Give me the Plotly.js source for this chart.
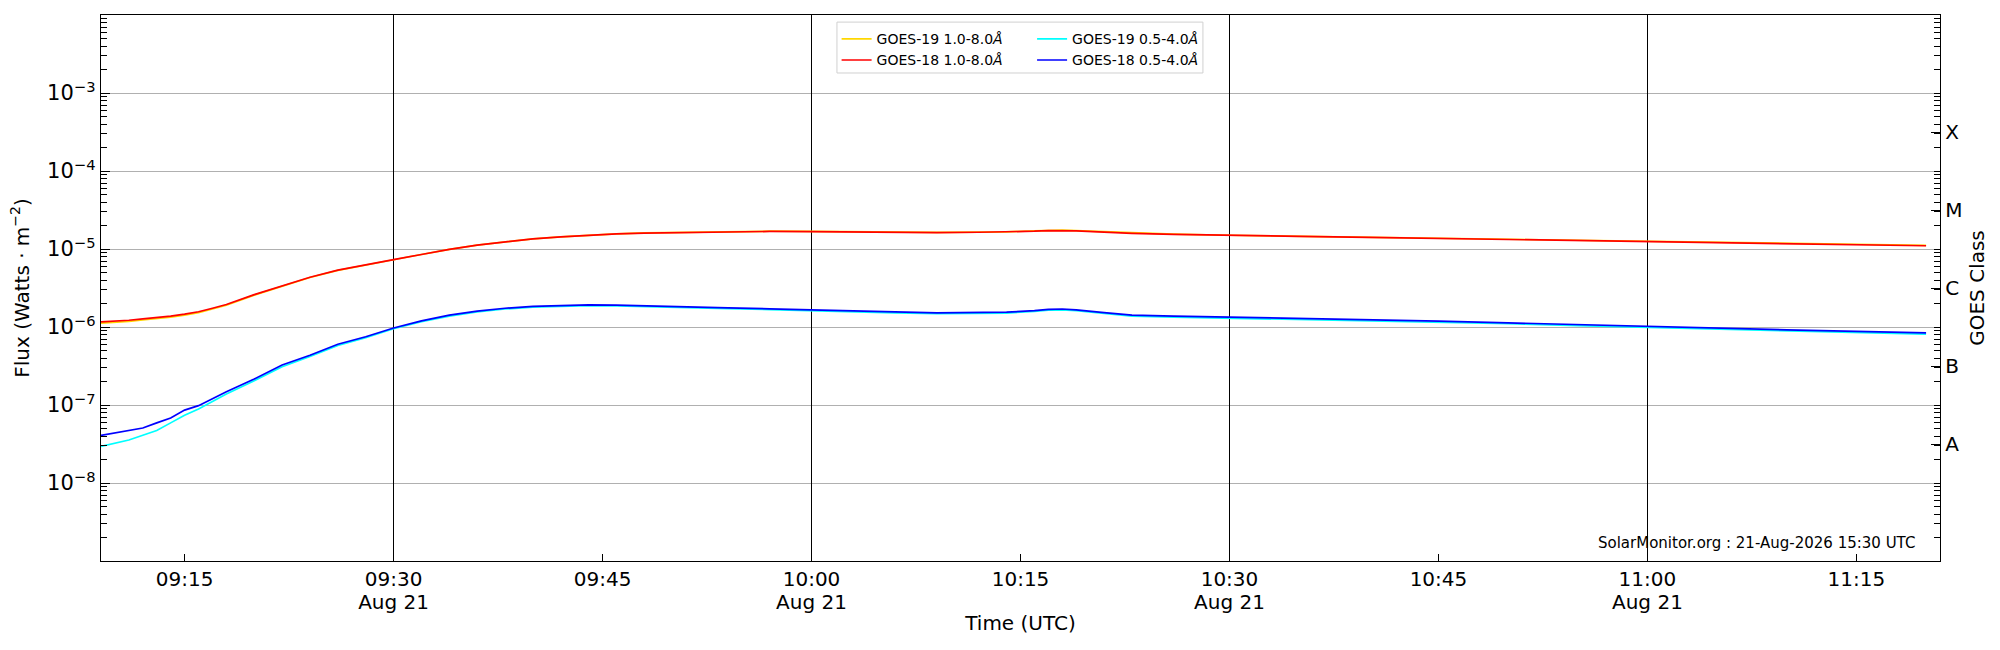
<!DOCTYPE html>
<html>
<head>
<meta charset="utf-8">
<script src="https://cdn.plot.ly/plotly-3.0.1.min.js"></script>
<style>html,body{margin:0;padding:0;background:#fff;}#chart{width:2000px;height:650px;}</style>
</head>
<body>
<div id="chart"></div>
<script>
const times = ["09:09","09:10","09:11","09:12","09:13","09:14","09:15","09:16","09:17","09:18",
  "09:20","09:22","09:24","09:26","09:28","09:30","09:32","09:34","09:36","09:38",
  "09:40","09:42","09:44","09:46","09:48","09:51","09:54","09:57","10:00","10:03",
  "10:06","10:09","10:12","10:14","10:16","10:17","10:18","10:19","10:21","10:23",
  "10:26","10:30","10:35","10:40","10:45","10:50","10:55","11:00","11:05","11:10",
  "11:15","11:20"];

const goes18Long = [1.16e-6,1.18e-6,1.22e-6,1.27e-6,1.32e-6,1.38e-6,1.46e-6,1.57e-6,1.74e-6,1.94e-6,
  2.6e-6,3.4e-6,4.35e-6,5.35e-6,6.3e-6,7.3e-6,8.5e-6,9.9e-6,1.12e-5,1.24e-5,
  1.35e-5,1.43e-5,1.51e-5,1.56e-5,1.60e-5,1.63e-5,1.65e-5,1.68e-5,1.67e-5,1.65e-5,
  1.63e-5,1.62e-5,1.64e-5,1.65e-5,1.69e-5,1.72e-5,1.73e-5,1.71e-5,1.65e-5,1.59e-5,
  1.54e-5,1.49e-5,1.45e-5,1.41e-5,1.37e-5,1.32e-5,1.28e-5,1.24e-5,1.21e-5,1.18e-5,
  1.14e-5,1.10e-5];

const goes19Long = [1.12e-6,1.14e-6,1.18e-6,1.23e-6,1.28e-6,1.34e-6,1.42e-6,1.53e-6,1.70e-6,1.90e-6,
  2.56e-6,3.36e-6,4.31e-6,5.31e-6,6.27e-6,7.28e-6,8.5e-6,9.9e-6,1.12e-5,1.24e-5,
  1.35e-5,1.43e-5,1.51e-5,1.56e-5,1.61e-5,1.64e-5,1.66e-5,1.69e-5,1.68e-5,1.66e-5,
  1.64e-5,1.63e-5,1.65e-5,1.66e-5,1.71e-5,1.74e-5,1.75e-5,1.72e-5,1.66e-5,1.60e-5,
  1.55e-5,1.50e-5,1.46e-5,1.42e-5,1.38e-5,1.33e-5,1.29e-5,1.25e-5,1.22e-5,1.19e-5,
  1.15e-5,1.11e-5];

const goes18Short = [4.07e-8,4.4e-8,4.7e-8,5.07e-8,5.9e-8,6.8e-8,8.6e-8,9.8e-8,1.2e-7,1.48e-7,
  2.15e-7,3.25e-7,4.35e-7,6.0e-7,7.5e-7,9.7e-7,1.2e-6,1.42e-6,1.6e-6,1.74e-6,
  1.84e-6,1.90e-6,1.92e-6,1.91e-6,1.88e-6,1.82e-6,1.76e-6,1.71e-6,1.67e-6,1.62e-6,
  1.56e-6,1.52e-6,1.52e-6,1.55e-6,1.62e-6,1.68e-6,1.70e-6,1.66e-6,1.53e-6,1.42e-6,
  1.38e-6,1.34e-6,1.29e-6,1.24e-6,1.19e-6,1.13e-6,1.07e-6,1.02e-6,0.97e-6,0.92e-6,
  0.88e-6,0.84e-6];

const goes19Short = [2.95e-8,3.25e-8,3.56e-8,4.1e-8,4.7e-8,5.9e-8,7.4e-8,8.9e-8,1.1e-7,1.38e-7,
  2.05e-7,3.1e-7,4.2e-7,5.8e-7,7.3e-7,9.5e-7,1.17e-6,1.38e-6,1.56e-6,1.70e-6,
  1.80e-6,1.86e-6,1.88e-6,1.87e-6,1.84e-6,1.78e-6,1.72e-6,1.67e-6,1.63e-6,1.58e-6,
  1.52e-6,1.48e-6,1.48e-6,1.51e-6,1.58e-6,1.64e-6,1.66e-6,1.62e-6,1.49e-6,1.38e-6,
  1.34e-6,1.30e-6,1.25e-6,1.20e-6,1.15e-6,1.10e-6,1.04e-6,0.99e-6,0.94e-6,0.89e-6,
  0.85e-6,0.81e-6];

const seriesNames = ["GOES-19 1.0-8.0<i>Å</i>","GOES-18 1.0-8.0<i>Å</i>","GOES-19 0.5-4.0<i>Å</i>","GOES-18 0.5-4.0<i>Å</i>"];
const seriesColors = ["#ffd700","#ff0000","#00ffff","#0000ff"];
const seriesLegends = ["legend","legend","legend2","legend2"];
// draw order: yellow, cyan, red on main axes; blue on overlay axes (drawn on top)
const drawOrder = [0, 2, 1, 3];

const day = "2026-08-21 ";
const xRange = [day+"09:09:00", day+"11:21:00"];
const xTickTimes = ["09:15","09:30","09:45","10:00","10:15","10:30","10:45","11:00","11:15"];
const xTickLabels = ["09:15","09:30","09:45","10:00","10:15","10:30","10:45","11:00","11:15"];
const dayLineTimes = ["09:30","10:00","10:30","11:00"];
const dayLineLabels = ["Aug 21","Aug 21","Aug 21","Aug 21"];

const fluxTickVals = [1e-8,1e-7,1e-6,1e-5,1e-4,1e-3];
const fluxTickText = ["10<sup>−8</sup>","10<sup>−7</sup>","10<sup>−6</sup>","10<sup>−5</sup>","10<sup>−4</sup>","10<sup>−3</sup>"];
const classTickVals = [Math.pow(10,-7.5),Math.pow(10,-6.5),Math.pow(10,-5.5),Math.pow(10,-4.5),Math.pow(10,-3.5)];
const classTickText = ["A","B","C","M","X"];

// minor tick positions of the log axes (1..9 x 10^n)
const minorVals = [];
for (let e = -9; e <= -3; e++) for (let m = 1; m <= 9; m++) minorVals.push(m * Math.pow(10, e));

const x = times.map(t => day + t);
const ys = [goes19Long, goes18Long, goes19Short, goes18Short];

const traces = drawOrder.map(i => ({
  type: "scatter", mode: "lines", x: x, y: ys[i], name: seriesNames[i],
  legend: seriesLegends[i], legendrank: i,
  xaxis: i === 3 ? "x2" : "x", yaxis: i === 3 ? "y2" : "y",
  line: {color: seriesColors[i], width: 1.7}
}));

const font = "DejaVu Sans, Arial, sans-serif";
const minor = {tickmode: "array", tickvals: minorVals, ticks: "inside", ticklen: 6, tickwidth: 1, tickcolor: "#000", showgrid: false};
const legendBase = {
  orientation: "v", y: 0.985, yanchor: "top", xanchor: "left",
  bgcolor: "rgba(0,0,0,0)", borderwidth: 0, traceorder: "normal",
  font: {family: font, size: 14, color: "#000"}
};

const layout = {
  width: 2000, height: 650,
  paper_bgcolor: "#fff", plot_bgcolor: "#fff",
  margin: {l: 101, r: 60, t: 15, b: 89},
  font: {family: font, size: 20, color: "#000"},
  showlegend: true,
  legend: Object.assign({}, legendBase, {x: 0.4000}),
  legend2: Object.assign({}, legendBase, {x: 0.5063}),
  shapes: [{
    type: "rect", xref: "paper", yref: "paper", layer: "below",
    x0: 0.4002, x1: 0.5992, y0: 0.8938, y1: 0.987,
    line: {color: "#d0d0d0", width: 1}, fillcolor: "#fff"
  }],
  xaxis: {
    type: "date", range: xRange, tickmode: "array",
    tickvals: xTickTimes.map(t => day + t), ticktext: xTickLabels,
    ticks: "inside", ticklen: 7, tickwidth: 1, tickcolor: "#000",
    showline: true, mirror: true, linecolor: "#000", linewidth: 1.3,
    showgrid: false, zeroline: false, tickfont: {size: 20},
    title: {text: "Time (UTC)", font: {size: 20}, standoff: 25}
  },
  xaxis2: {
    type: "date", range: xRange, overlaying: "x", anchor: "y2", side: "bottom", tickmode: "array",
    tickvals: dayLineTimes.map(t => day + t), ticktext: dayLineLabels,
    showticklabels: true, ticks: "", ticklabelstandoff: 27, tickfont: {size: 20},
    showgrid: true, gridcolor: "#000", gridwidth: 1.3, showline: false, zeroline: false
  },
  yaxis: {
    type: "log", range: [-9, -2], tickmode: "array",
    tickvals: fluxTickVals, ticktext: fluxTickText,
    ticks: "inside", ticklen: 9, tickwidth: 1, tickcolor: "#000",
    minor: minor,
    showline: true, linecolor: "#000", linewidth: 1.3, mirror: false,
    showgrid: true, gridcolor: "#b0b0b0", gridwidth: 1, zeroline: false,
    tickfont: {size: 21},
    title: {text: "Flux (Watts · m<sup>−2</sup>)", font: {size: 20}, standoff: 12}
  },
  yaxis2: {
    type: "log", range: [-9, -2], overlaying: "y", side: "right", anchor: "x2", tickmode: "array",
    tickvals: classTickVals, ticktext: classTickText,
    ticks: "inside", ticklen: 9, tickwidth: 1, tickcolor: "#000",
    minor: minor,
    showline: true, linecolor: "#000", linewidth: 1.3,
    showgrid: false, zeroline: false, tickfont: {size: 20},
    title: {text: "GOES Class", font: {size: 20}, standoff: 8}
  },
  annotations: [{
    xref: "paper", yref: "paper", x: 0.9875, y: 0.012, xanchor: "right", yanchor: "bottom",
    text: "SolarMonitor.org : 21-Aug-2026 15:30 UTC", showarrow: false,
    font: {family: font, size: 15, color: "#000"}
  }]
};

Plotly.newPlot("chart", traces, layout, {displayModeBar: false, staticPlot: true});
</script>
</body>
</html>
